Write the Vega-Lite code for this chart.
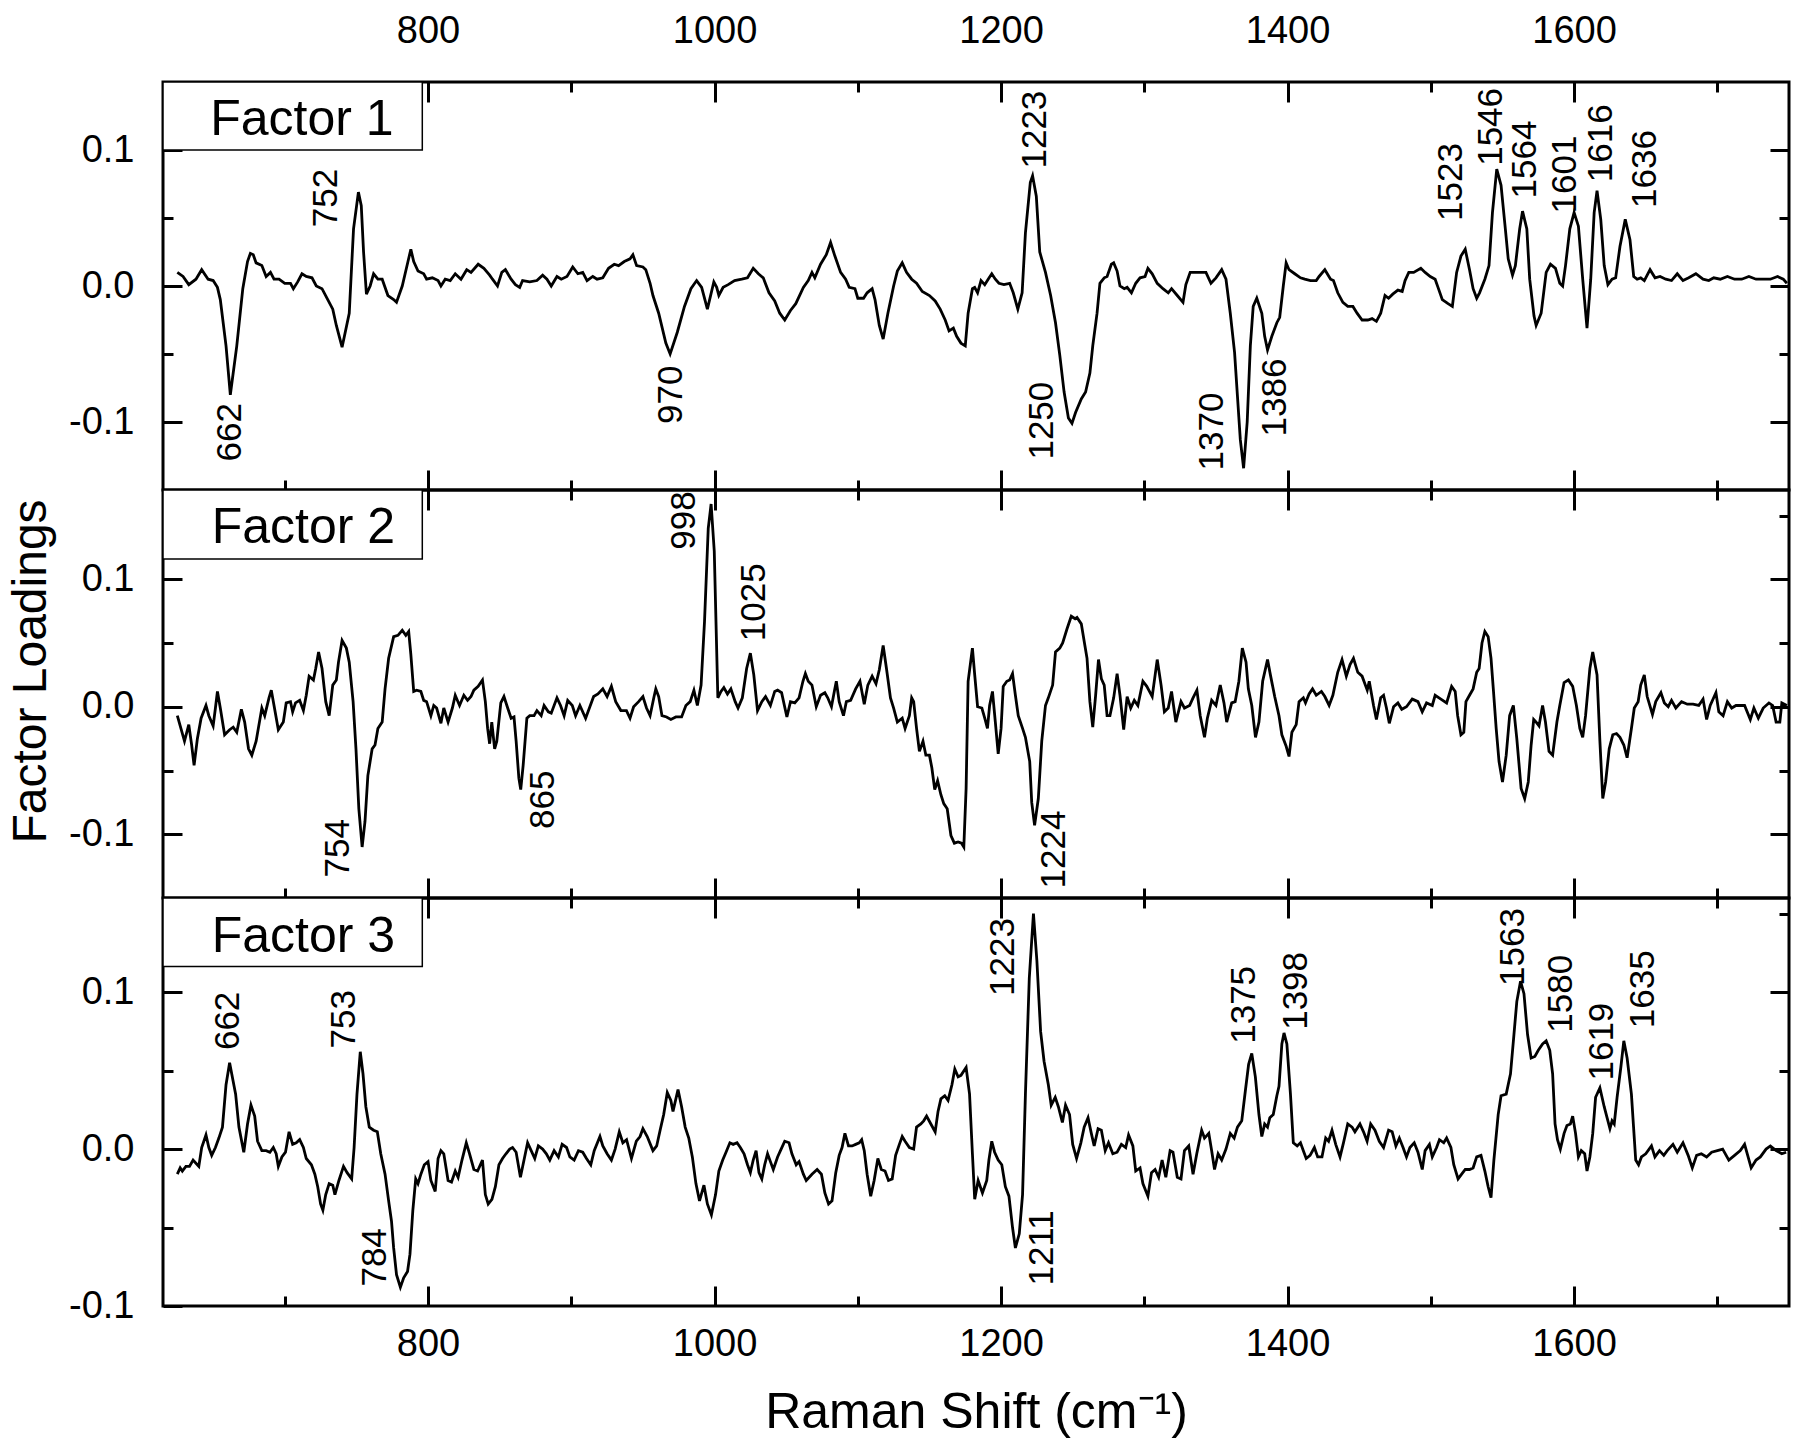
{
"$schema": "https://vega.github.io/schema/vega-lite/v6.json",
"background": "white",
"padding": {"left": 5, "top": 0, "right": 5, "bottom": 5},
"config": {
  "font": "Liberation Sans",
  "view": {"stroke": "black", "strokeWidth": 3},
  "axis": {"domain": false, "grid": false, "tickColor": "black", "tickWidth": 3, "labelFont": "Liberation Sans", "labelFontSize": 38, "labelColor": "black", "titleFont": "Liberation Sans", "titleFontSize": 48, "titleFontWeight": "normal", "titleColor": "black", "labelOverlap": false, "labelFlush": false},
  "text": {"font": "Liberation Sans", "color": "black"}
},
"datasets": {
"f1": [
{"x":625,"y":0.010},{"x":629,"y":0.007},{"x":633,"y":0.001},{"x":638,"y":0.005},{"x":642,"y":0.012},{"x":646.5,"y":0.005},{"x":650,"y":0.004},{"x":653,"y":-0.001},{"x":655,"y":-0.010},{"x":659,"y":-0.044},{"x":662,"y":-0.080},{"x":666.5,"y":-0.044},{"x":670.7,"y":-0.002},{"x":674,"y":0.018},{"x":676,"y":0.024},{"x":678,"y":0.023},{"x":680,"y":0.017},{"x":684,"y":0.015},{"x":687,"y":0.007},{"x":690,"y":0.010},{"x":692.5,"y":0.005},{"x":696,"y":0.005},{"x":700,"y":0.002},{"x":704,"y":0.002},{"x":706,"y":-0.002},{"x":709,"y":0.003},{"x":712,"y":0.009},{"x":715,"y":0.007},{"x":719,"y":0.006},{"x":722,"y":0.000},{"x":726,"y":-0.002},{"x":730,"y":-0.010},{"x":733.5,"y":-0.017},{"x":736,"y":-0.029},{"x":740,"y":-0.045},{"x":745,"y":-0.020},{"x":748,"y":0.042},{"x":751.4,"y":0.069},{"x":753.4,"y":0.059},{"x":755,"y":0.025},{"x":757,"y":-0.006},{"x":759.6,"y":0.000},{"x":762,"y":0.009},{"x":765,"y":0.005},{"x":768,"y":0.005},{"x":772,"y":-0.007},{"x":776,"y":-0.010},{"x":778,"y":-0.012},{"x":782,"y":0.000},{"x":786,"y":0.018},{"x":788,"y":0.027},{"x":790,"y":0.018},{"x":793,"y":0.011},{"x":797,"y":0.009},{"x":799,"y":0.005},{"x":803,"y":0.006},{"x":807,"y":0.004},{"x":809,"y":0.000},{"x":812,"y":0.005},{"x":815.5,"y":0.004},{"x":819,"y":0.009},{"x":823,"y":0.005},{"x":827,"y":0.012},{"x":830,"y":0.010},{"x":835,"y":0.016},{"x":839,"y":0.013},{"x":843,"y":0.008},{"x":845,"y":0.005},{"x":848.5,"y":0.000},{"x":851.5,"y":0.010},{"x":854,"y":0.012},{"x":858,"y":0.005},{"x":861,"y":0.001},{"x":864,"y":-0.001},{"x":866,"y":0.004},{"x":871,"y":0.003},{"x":876,"y":0.004},{"x":880,"y":0.008},{"x":883,"y":0.005},{"x":886,"y":0.000},{"x":890,"y":0.007},{"x":893,"y":0.005},{"x":897,"y":0.007},{"x":901,"y":0.014},{"x":904.6,"y":0.009},{"x":908,"y":0.010},{"x":911,"y":0.004},{"x":915,"y":0.007},{"x":918,"y":0.005},{"x":922,"y":0.006},{"x":926,"y":0.013},{"x":930,"y":0.016},{"x":933,"y":0.015},{"x":937,"y":0.018},{"x":941,"y":0.020},{"x":943,"y":0.023},{"x":945.6,"y":0.015},{"x":950,"y":0.014},{"x":952,"y":0.012},{"x":955,"y":0.002},{"x":957,"y":-0.007},{"x":961,"y":-0.020},{"x":966,"y":-0.042},{"x":969,"y":-0.050},{"x":974,"y":-0.034},{"x":979,"y":-0.015},{"x":983.5,"y":-0.002},{"x":987.5,"y":0.004},{"x":991,"y":-0.001},{"x":995,"y":-0.017},{"x":999.5,"y":0.003},{"x":1001.5,"y":-0.001},{"x":1003,"y":-0.007},{"x":1006,"y":-0.001},{"x":1009.5,"y":0.001},{"x":1014,"y":0.004},{"x":1019,"y":0.005},{"x":1023,"y":0.006},{"x":1027,"y":0.013},{"x":1030.6,"y":0.009},{"x":1034,"y":0.006},{"x":1038,"y":-0.005},{"x":1042,"y":-0.011},{"x":1045.5,"y":-0.020},{"x":1049,"y":-0.025},{"x":1053,"y":-0.018},{"x":1056.7,"y":-0.013},{"x":1062,"y":-0.001},{"x":1065.4,"y":0.004},{"x":1068,"y":0.010},{"x":1070,"y":0.006},{"x":1074,"y":0.016},{"x":1078,"y":0.023},{"x":1081,"y":0.032},{"x":1084,"y":0.022},{"x":1088,"y":0.010},{"x":1091.5,"y":0.005},{"x":1094,"y":-0.001},{"x":1098,"y":-0.002},{"x":1100,"y":-0.009},{"x":1104,"y":-0.009},{"x":1106.5,"y":-0.005},{"x":1110,"y":-0.002},{"x":1112,"y":-0.010},{"x":1115,"y":-0.029},{"x":1117.7,"y":-0.039},{"x":1121,"y":-0.020},{"x":1125,"y":0.000},{"x":1127.6,"y":0.011},{"x":1131,"y":0.017},{"x":1134,"y":0.010},{"x":1137.6,"y":0.005},{"x":1141,"y":0.002},{"x":1145,"y":-0.004},{"x":1150,"y":-0.007},{"x":1154,"y":-0.011},{"x":1157.5,"y":-0.017},{"x":1161,"y":-0.025},{"x":1163.7,"y":-0.033},{"x":1166.7,"y":-0.031},{"x":1169,"y":-0.037},{"x":1172,"y":-0.042},{"x":1175,"y":-0.044},{"x":1177,"y":-0.020},{"x":1180,"y":-0.002},{"x":1181.6,"y":-0.001},{"x":1183.6,"y":-0.005},{"x":1186,"y":0.004},{"x":1188.6,"y":0.001},{"x":1191,"y":0.005},{"x":1193.5,"y":0.009},{"x":1196,"y":0.005},{"x":1198.5,"y":0.002},{"x":1202,"y":0.001},{"x":1206,"y":0.002},{"x":1208.5,"y":-0.005},{"x":1211.7,"y":-0.017},{"x":1214.7,"y":-0.005},{"x":1217,"y":0.039},{"x":1220.4,"y":0.076},{"x":1222,"y":0.081},{"x":1224.6,"y":0.066},{"x":1227,"y":0.025},{"x":1231,"y":0.010},{"x":1234.6,"y":-0.007},{"x":1238,"y":-0.027},{"x":1241,"y":-0.051},{"x":1244,"y":-0.078},{"x":1247,"y":-0.097},{"x":1249.5,"y":-0.101},{"x":1252,"y":-0.093},{"x":1256,"y":-0.083},{"x":1259,"y":-0.078},{"x":1262,"y":-0.064},{"x":1264,"y":-0.044},{"x":1267,"y":-0.020},{"x":1269,"y":0.002},{"x":1272,"y":0.006},{"x":1274,"y":0.007},{"x":1277,"y":0.016},{"x":1278.6,"y":0.017},{"x":1281,"y":0.011},{"x":1283,"y":0.000},{"x":1286,"y":-0.002},{"x":1288,"y":-0.001},{"x":1291,"y":-0.005},{"x":1294,"y":0.002},{"x":1297,"y":0.006},{"x":1300.5,"y":0.007},{"x":1302.5,"y":0.013},{"x":1305.5,"y":0.009},{"x":1309,"y":0.002},{"x":1313,"y":-0.002},{"x":1316.7,"y":-0.005},{"x":1319,"y":-0.002},{"x":1323,"y":-0.007},{"x":1327,"y":-0.012},{"x":1329,"y":0.001},{"x":1332,"y":0.010},{"x":1337,"y":0.010},{"x":1340.7,"y":0.010},{"x":1343,"y":0.010},{"x":1346.5,"y":0.002},{"x":1350,"y":0.006},{"x":1354,"y":0.012},{"x":1357,"y":0.005},{"x":1360,"y":-0.020},{"x":1363,"y":-0.049},{"x":1365,"y":-0.081},{"x":1367,"y":-0.113},{"x":1369.3,"y":-0.134},{"x":1371.8,"y":-0.100},{"x":1374,"y":-0.044},{"x":1376,"y":-0.015},{"x":1378.5,"y":-0.009},{"x":1382,"y":-0.020},{"x":1384,"y":-0.037},{"x":1386,"y":-0.047},{"x":1389,"y":-0.037},{"x":1392.5,"y":-0.027},{"x":1394.5,"y":-0.023},{"x":1397,"y":0.000},{"x":1399,"y":0.017},{"x":1401,"y":0.012},{"x":1405,"y":0.009},{"x":1409,"y":0.006},{"x":1412,"y":0.005},{"x":1416,"y":0.004},{"x":1420,"y":0.004},{"x":1422,"y":0.007},{"x":1426,"y":0.012},{"x":1430,"y":0.005},{"x":1432,"y":0.004},{"x":1435,"y":-0.005},{"x":1438.6,"y":-0.012},{"x":1442,"y":-0.015},{"x":1445.6,"y":-0.015},{"x":1448.5,"y":-0.020},{"x":1452,"y":-0.025},{"x":1456,"y":-0.025},{"x":1459,"y":-0.024},{"x":1462,"y":-0.026},{"x":1465,"y":-0.020},{"x":1468,"y":-0.007},{"x":1470.5,"y":-0.009},{"x":1473.4,"y":-0.006},{"x":1477,"y":-0.003},{"x":1480,"y":-0.004},{"x":1482,"y":0.004},{"x":1484.6,"y":0.010},{"x":1488,"y":0.010},{"x":1493,"y":0.013},{"x":1496,"y":0.010},{"x":1499.6,"y":0.007},{"x":1503,"y":0.005},{"x":1505,"y":-0.001},{"x":1508,"y":-0.010},{"x":1512,"y":-0.013},{"x":1515,"y":-0.015},{"x":1518,"y":0.010},{"x":1521,"y":0.022},{"x":1524,"y":0.027},{"x":1527,"y":0.012},{"x":1529.5,"y":-0.002},{"x":1532,"y":-0.009},{"x":1534,"y":-0.005},{"x":1537.7,"y":0.005},{"x":1540.6,"y":0.015},{"x":1543,"y":0.054},{"x":1546,"y":0.086},{"x":1549,"y":0.074},{"x":1552,"y":0.042},{"x":1554,"y":0.020},{"x":1557,"y":0.008},{"x":1559,"y":0.015},{"x":1562,"y":0.042},{"x":1564,"y":0.055},{"x":1567,"y":0.042},{"x":1569,"y":0.005},{"x":1572,"y":-0.022},{"x":1573.5,"y":-0.029},{"x":1577,"y":-0.020},{"x":1580.5,"y":0.010},{"x":1583.5,"y":0.016},{"x":1587,"y":0.013},{"x":1590,"y":0.002},{"x":1592,"y":0.000},{"x":1594,"y":0.015},{"x":1597,"y":0.042},{"x":1600,"y":0.054},{"x":1603,"y":0.044},{"x":1606,"y":0.005},{"x":1609,"y":-0.031},{"x":1611.6,"y":0.005},{"x":1614,"y":0.054},{"x":1616,"y":0.070},{"x":1618.6,"y":0.049},{"x":1621,"y":0.015},{"x":1623.6,"y":0.001},{"x":1626.5,"y":0.005},{"x":1629,"y":0.006},{"x":1632,"y":0.029},{"x":1635.7,"y":0.049},{"x":1639,"y":0.034},{"x":1641.6,"y":0.007},{"x":1644,"y":0.005},{"x":1646.5,"y":0.006},{"x":1649,"y":0.004},{"x":1653,"y":0.012},{"x":1656.5,"y":0.006},{"x":1660,"y":0.007},{"x":1664,"y":0.005},{"x":1668,"y":0.004},{"x":1672,"y":0.009},{"x":1676,"y":0.004},{"x":1680,"y":0.006},{"x":1685,"y":0.009},{"x":1690,"y":0.005},{"x":1694,"y":0.004},{"x":1697.5,"y":0.006},{"x":1702,"y":0.005},{"x":1707,"y":0.007},{"x":1712,"y":0.005},{"x":1717,"y":0.005},{"x":1722,"y":0.007},{"x":1727,"y":0.005},{"x":1732,"y":0.005},{"x":1737,"y":0.005},{"x":1742,"y":0.007},{"x":1746,"y":0.005},{"x":1748.5,"y":0.002}
],
"f2": [
{"x":625,"y":-0.007},{"x":627.5,"y":-0.017},{"x":630,"y":-0.027},{"x":633,"y":-0.014},{"x":635,"y":-0.030},{"x":636.7,"y":-0.046},{"x":639,"y":-0.025},{"x":641.6,"y":-0.009},{"x":645,"y":0.001},{"x":647,"y":-0.007},{"x":650,"y":-0.015},{"x":651.6,"y":-0.001},{"x":653,"y":0.012},{"x":655,"y":-0.001},{"x":658,"y":-0.022},{"x":661.5,"y":-0.018},{"x":664,"y":-0.016},{"x":666.5,"y":-0.020},{"x":669.7,"y":-0.002},{"x":672,"y":-0.012},{"x":674.7,"y":-0.033},{"x":677,"y":-0.038},{"x":680,"y":-0.027},{"x":684,"y":-0.001},{"x":686,"y":-0.007},{"x":689,"y":0.007},{"x":690.6,"y":0.013},{"x":692.5,"y":0.001},{"x":695.5,"y":-0.018},{"x":699,"y":-0.012},{"x":701,"y":0.003},{"x":704,"y":0.004},{"x":705.5,"y":-0.004},{"x":707.5,"y":0.003},{"x":710.4,"y":0.005},{"x":713,"y":-0.003},{"x":715,"y":0.009},{"x":717,"y":0.024},{"x":720,"y":0.021},{"x":721.6,"y":0.030},{"x":723.6,"y":0.043},{"x":726,"y":0.030},{"x":728.6,"y":0.004},{"x":731,"y":-0.007},{"x":733.5,"y":0.017},{"x":736,"y":0.021},{"x":737.5,"y":0.035},{"x":740,"y":0.052},{"x":743,"y":0.046},{"x":745,"y":0.035},{"x":747.7,"y":0.004},{"x":749.7,"y":-0.033},{"x":751.7,"y":-0.080},{"x":754,"y":-0.110},{"x":756,"y":-0.090},{"x":758,"y":-0.054},{"x":761,"y":-0.033},{"x":763,"y":-0.030},{"x":765,"y":-0.017},{"x":768,"y":-0.012},{"x":770,"y":0.014},{"x":772.5,"y":0.038},{"x":776,"y":0.055},{"x":779,"y":0.056},{"x":782,"y":0.060},{"x":784.5,"y":0.056},{"x":786.5,"y":0.059},{"x":788,"y":0.041},{"x":790,"y":0.012},{"x":792,"y":0.013},{"x":795,"y":0.012},{"x":797,"y":0.005},{"x":799,"y":0.004},{"x":802,"y":-0.007},{"x":804,"y":0.001},{"x":806,"y":-0.001},{"x":809,"y":-0.013},{"x":811,"y":-0.001},{"x":814,"y":-0.012},{"x":817,"y":-0.001},{"x":819,"y":0.009},{"x":822,"y":0.001},{"x":825,"y":0.009},{"x":827.6,"y":0.005},{"x":830,"y":0.008},{"x":832,"y":0.013},{"x":835,"y":0.016},{"x":838,"y":0.021},{"x":840,"y":0.004},{"x":841.6,"y":-0.017},{"x":843,"y":-0.029},{"x":844.5,"y":-0.012},{"x":846.5,"y":-0.033},{"x":848,"y":-0.027},{"x":850.8,"y":0.003},{"x":853,"y":0.008},{"x":855.6,"y":-0.001},{"x":858,"y":-0.009},{"x":860,"y":-0.008},{"x":861.5,"y":-0.027},{"x":863.4,"y":-0.056},{"x":864.7,"y":-0.065},{"x":866.4,"y":-0.046},{"x":869,"y":-0.009},{"x":871,"y":-0.007},{"x":874,"y":-0.007},{"x":876,"y":-0.003},{"x":879,"y":-0.007},{"x":881,"y":0.001},{"x":884,"y":-0.004},{"x":886,"y":-0.005},{"x":890,"y":0.007},{"x":892.5,"y":0.001},{"x":895,"y":-0.007},{"x":897.5,"y":0.005},{"x":900.7,"y":0.001},{"x":903,"y":-0.007},{"x":906,"y":0.001},{"x":910,"y":-0.009},{"x":912,"y":-0.003},{"x":915.6,"y":0.008},{"x":918.6,"y":0.010},{"x":922,"y":0.014},{"x":925,"y":0.008},{"x":928,"y":0.016},{"x":931,"y":0.004},{"x":934.6,"y":-0.003},{"x":938.5,"y":-0.003},{"x":941,"y":-0.009},{"x":943.5,"y":0.000},{"x":947,"y":0.004},{"x":950,"y":0.008},{"x":952.5,"y":-0.001},{"x":955,"y":-0.007},{"x":957.6,"y":0.007},{"x":959,"y":0.014},{"x":961,"y":0.008},{"x":963.3,"y":-0.007},{"x":966.5,"y":-0.008},{"x":969.5,"y":-0.010},{"x":973,"y":-0.008},{"x":977,"y":-0.008},{"x":980,"y":0.001},{"x":983,"y":0.004},{"x":985.6,"y":0.013},{"x":988,"y":0.001},{"x":990.6,"y":0.017},{"x":993,"y":0.067},{"x":995.6,"y":0.140},{"x":997.6,"y":0.159},{"x":999.8,"y":0.122},{"x":1002.3,"y":0.007},{"x":1004.5,"y":0.012},{"x":1006.5,"y":0.015},{"x":1009,"y":0.010},{"x":1011.4,"y":0.014},{"x":1014.4,"y":0.004},{"x":1016.4,"y":-0.001},{"x":1019.4,"y":0.007},{"x":1022.4,"y":0.030},{"x":1025,"y":0.042},{"x":1027.4,"y":0.025},{"x":1030,"y":-0.003},{"x":1033,"y":0.004},{"x":1035.6,"y":0.008},{"x":1039,"y":0.001},{"x":1042,"y":0.012},{"x":1044,"y":0.013},{"x":1046.8,"y":0.011},{"x":1050.5,"y":-0.008},{"x":1053,"y":0.004},{"x":1056,"y":0.003},{"x":1059,"y":0.007},{"x":1061.7,"y":0.020},{"x":1063.4,"y":0.026},{"x":1065.4,"y":0.020},{"x":1068,"y":0.017},{"x":1071,"y":0.000},{"x":1074,"y":0.009},{"x":1077,"y":0.011},{"x":1079,"y":0.007},{"x":1081.6,"y":0.000},{"x":1083.6,"y":0.012},{"x":1085,"y":0.020},{"x":1087,"y":0.004},{"x":1090,"y":-0.007},{"x":1092,"y":0.004},{"x":1095,"y":0.005},{"x":1098.5,"y":0.014},{"x":1101.5,"y":0.020},{"x":1104.5,"y":0.002},{"x":1107,"y":0.017},{"x":1110,"y":0.024},{"x":1112.7,"y":0.018},{"x":1115,"y":0.029},{"x":1117.7,"y":0.048},{"x":1120,"y":0.030},{"x":1122.8,"y":0.007},{"x":1125,"y":-0.001},{"x":1127.6,"y":-0.012},{"x":1131,"y":-0.009},{"x":1133,"y":-0.017},{"x":1136,"y":-0.007},{"x":1137.6,"y":0.007},{"x":1139,"y":0.004},{"x":1141,"y":-0.017},{"x":1143,"y":-0.035},{"x":1145.5,"y":-0.027},{"x":1147.5,"y":-0.038},{"x":1150,"y":-0.038},{"x":1151.7,"y":-0.048},{"x":1153.7,"y":-0.065},{"x":1155.7,"y":-0.058},{"x":1158,"y":-0.069},{"x":1160,"y":-0.076},{"x":1162.4,"y":-0.080},{"x":1165,"y":-0.101},{"x":1167.4,"y":-0.107},{"x":1170,"y":-0.106},{"x":1172.4,"y":-0.107},{"x":1174,"y":-0.110},{"x":1175.6,"y":-0.064},{"x":1177,"y":0.020},{"x":1180,"y":0.046},{"x":1181.6,"y":0.025},{"x":1183.6,"y":0.000},{"x":1186.6,"y":-0.001},{"x":1188.6,"y":-0.009},{"x":1190.5,"y":-0.017},{"x":1192,"y":0.001},{"x":1194,"y":0.012},{"x":1196,"y":-0.012},{"x":1198,"y":-0.037},{"x":1200,"y":-0.017},{"x":1201.5,"y":0.016},{"x":1204,"y":0.020},{"x":1206,"y":0.021},{"x":1208,"y":0.026},{"x":1210,"y":0.009},{"x":1212,"y":-0.007},{"x":1215,"y":-0.017},{"x":1217,"y":-0.024},{"x":1220,"y":-0.043},{"x":1221.4,"y":-0.075},{"x":1223.4,"y":-0.093},{"x":1226,"y":-0.072},{"x":1228.4,"y":-0.027},{"x":1231,"y":0.001},{"x":1233,"y":0.007},{"x":1236,"y":0.017},{"x":1238,"y":0.043},{"x":1241,"y":0.046},{"x":1243,"y":0.050},{"x":1246,"y":0.061},{"x":1249,"y":0.071},{"x":1251.7,"y":0.069},{"x":1253,"y":0.070},{"x":1256,"y":0.065},{"x":1258.5,"y":0.048},{"x":1260,"y":0.038},{"x":1262,"y":0.004},{"x":1264,"y":-0.016},{"x":1266,"y":0.009},{"x":1268,"y":0.037},{"x":1270,"y":0.022},{"x":1272,"y":0.017},{"x":1274,"y":-0.007},{"x":1276,"y":-0.007},{"x":1278.6,"y":0.007},{"x":1281,"y":0.026},{"x":1283,"y":0.009},{"x":1285.6,"y":-0.018},{"x":1288,"y":0.008},{"x":1290.5,"y":-0.001},{"x":1293,"y":0.005},{"x":1295.5,"y":0.001},{"x":1299,"y":0.020},{"x":1301.7,"y":0.016},{"x":1305.5,"y":0.008},{"x":1309,"y":0.037},{"x":1311.7,"y":0.017},{"x":1314,"y":-0.004},{"x":1316.7,"y":-0.001},{"x":1319,"y":0.012},{"x":1322,"y":-0.012},{"x":1325.6,"y":0.004},{"x":1328,"y":-0.001},{"x":1331.6,"y":0.001},{"x":1334,"y":0.007},{"x":1336.7,"y":0.013},{"x":1339,"y":-0.007},{"x":1342,"y":-0.024},{"x":1344,"y":-0.009},{"x":1347,"y":0.005},{"x":1350,"y":0.001},{"x":1353,"y":0.017},{"x":1355.6,"y":0.003},{"x":1357.5,"y":-0.012},{"x":1361,"y":0.003},{"x":1363.4,"y":0.004},{"x":1366,"y":0.020},{"x":1368.4,"y":0.046},{"x":1371,"y":0.035},{"x":1372.6,"y":0.014},{"x":1375,"y":0.001},{"x":1377.6,"y":-0.024},{"x":1380,"y":-0.012},{"x":1382.6,"y":0.020},{"x":1386,"y":0.037},{"x":1388,"y":0.025},{"x":1391,"y":0.008},{"x":1394,"y":-0.007},{"x":1396,"y":-0.022},{"x":1399,"y":-0.031},{"x":1401,"y":-0.039},{"x":1403,"y":-0.020},{"x":1406,"y":-0.014},{"x":1408,"y":0.004},{"x":1411,"y":0.007},{"x":1412.5,"y":0.003},{"x":1415,"y":0.010},{"x":1417.4,"y":0.014},{"x":1420,"y":0.009},{"x":1423.6,"y":0.012},{"x":1426,"y":0.008},{"x":1429,"y":0.001},{"x":1431.6,"y":0.009},{"x":1435,"y":0.027},{"x":1438,"y":0.037},{"x":1441,"y":0.024},{"x":1443.6,"y":0.033},{"x":1446,"y":0.038},{"x":1449,"y":0.027},{"x":1452,"y":0.024},{"x":1455.6,"y":0.013},{"x":1457,"y":0.020},{"x":1460,"y":0.001},{"x":1462,"y":-0.010},{"x":1465,"y":0.007},{"x":1467,"y":0.009},{"x":1469,"y":-0.001},{"x":1471,"y":-0.013},{"x":1474,"y":0.000},{"x":1477,"y":0.003},{"x":1479.7,"y":-0.002},{"x":1483,"y":0.000},{"x":1487,"y":0.006},{"x":1491,"y":0.004},{"x":1494,"y":-0.004},{"x":1497,"y":0.003},{"x":1501,"y":0.001},{"x":1503,"y":0.009},{"x":1507,"y":0.006},{"x":1511,"y":0.003},{"x":1514.5,"y":0.016},{"x":1517,"y":0.012},{"x":1518.7,"y":-0.007},{"x":1521,"y":-0.022},{"x":1523,"y":-0.020},{"x":1524.5,"y":0.004},{"x":1527,"y":0.009},{"x":1529.5,"y":0.014},{"x":1532,"y":0.027},{"x":1533.7,"y":0.030},{"x":1535.7,"y":0.050},{"x":1537.7,"y":0.059},{"x":1540,"y":0.055},{"x":1542,"y":0.038},{"x":1543.6,"y":0.014},{"x":1545.6,"y":-0.017},{"x":1547.6,"y":-0.043},{"x":1550,"y":-0.059},{"x":1552.6,"y":-0.038},{"x":1555,"y":-0.007},{"x":1557.6,"y":0.001},{"x":1560,"y":-0.025},{"x":1563,"y":-0.064},{"x":1565.5,"y":-0.072},{"x":1568,"y":-0.059},{"x":1570,"y":-0.030},{"x":1571.8,"y":-0.010},{"x":1573.5,"y":-0.012},{"x":1575.5,"y":-0.015},{"x":1578,"y":0.001},{"x":1580,"y":-0.012},{"x":1582.5,"y":-0.035},{"x":1585,"y":-0.038},{"x":1588,"y":-0.012},{"x":1590,"y":0.001},{"x":1593,"y":0.019},{"x":1596,"y":0.021},{"x":1599,"y":0.016},{"x":1601.6,"y":0.001},{"x":1604,"y":-0.017},{"x":1606,"y":-0.024},{"x":1608,"y":-0.007},{"x":1611,"y":0.030},{"x":1613,"y":0.043},{"x":1616,"y":0.025},{"x":1618,"y":-0.027},{"x":1620,"y":-0.072},{"x":1622,"y":-0.059},{"x":1624.5,"y":-0.033},{"x":1627,"y":-0.022},{"x":1629.6,"y":-0.021},{"x":1632,"y":-0.024},{"x":1634.7,"y":-0.030},{"x":1637,"y":-0.040},{"x":1640,"y":-0.017},{"x":1642,"y":-0.001},{"x":1644.7,"y":0.004},{"x":1646.5,"y":0.017},{"x":1649,"y":0.025},{"x":1651,"y":0.008},{"x":1654.7,"y":-0.006},{"x":1657,"y":0.004},{"x":1660.6,"y":0.011},{"x":1663,"y":0.003},{"x":1665.7,"y":0.000},{"x":1668,"y":0.005},{"x":1671,"y":-0.001},{"x":1675,"y":0.004},{"x":1679,"y":0.002},{"x":1683,"y":0.002},{"x":1687,"y":0.001},{"x":1690,"y":0.006},{"x":1692.5,"y":-0.010},{"x":1695,"y":0.001},{"x":1699,"y":0.011},{"x":1701,"y":-0.004},{"x":1704,"y":-0.007},{"x":1707,"y":0.004},{"x":1710,"y":-0.001},{"x":1713,"y":0.001},{"x":1716,"y":0.001},{"x":1719,"y":0.001},{"x":1723,"y":-0.010},{"x":1725.5,"y":-0.001},{"x":1728.6,"y":-0.009},{"x":1732,"y":-0.001},{"x":1736,"y":0.003},{"x":1738.6,"y":0.001},{"x":1741,"y":-0.012},{"x":1743.6,"y":-0.012},{"x":1745,"y":0.003},{"x":1748.5,"y":0.001}
],
"f3": [
{"x":625,"y":-0.016},{"x":627,"y":-0.012},{"x":628.5,"y":-0.014},{"x":631,"y":-0.011},{"x":633.5,"y":-0.011},{"x":636,"y":-0.007},{"x":638,"y":-0.009},{"x":640,"y":-0.011},{"x":642,"y":0.001},{"x":645,"y":0.009},{"x":647,"y":0.001},{"x":649,"y":-0.004},{"x":651.6,"y":0.001},{"x":654,"y":0.007},{"x":656.5,"y":0.014},{"x":659,"y":0.041},{"x":661.5,"y":0.055},{"x":664,"y":0.043},{"x":665.7,"y":0.035},{"x":668,"y":0.014},{"x":671.4,"y":-0.002},{"x":674,"y":0.016},{"x":676.4,"y":0.028},{"x":679,"y":0.021},{"x":681,"y":0.005},{"x":684,"y":-0.001},{"x":687,"y":-0.001},{"x":689.6,"y":-0.002},{"x":692,"y":0.001},{"x":694,"y":-0.003},{"x":695.5,"y":-0.011},{"x":698,"y":-0.005},{"x":700.5,"y":-0.002},{"x":703,"y":0.011},{"x":705.5,"y":0.003},{"x":708,"y":0.004},{"x":710.4,"y":0.006},{"x":713,"y":0.001},{"x":715,"y":-0.006},{"x":718.6,"y":-0.010},{"x":721,"y":-0.016},{"x":723,"y":-0.024},{"x":725,"y":-0.035},{"x":726.6,"y":-0.039},{"x":728.6,"y":-0.029},{"x":731,"y":-0.022},{"x":733.5,"y":-0.023},{"x":735,"y":-0.029},{"x":737.8,"y":-0.020},{"x":741,"y":-0.011},{"x":743.5,"y":-0.015},{"x":746.7,"y":-0.019},{"x":748.4,"y":0.001},{"x":750.4,"y":0.035},{"x":752.7,"y":0.062},{"x":754.6,"y":0.048},{"x":756.6,"y":0.027},{"x":759,"y":0.014},{"x":762,"y":0.012},{"x":764.6,"y":0.011},{"x":767,"y":-0.003},{"x":770,"y":-0.016},{"x":772.5,"y":-0.033},{"x":774.5,"y":-0.046},{"x":776,"y":-0.063},{"x":778,"y":-0.080},{"x":780.7,"y":-0.088},{"x":783,"y":-0.082},{"x":785.7,"y":-0.078},{"x":787.4,"y":-0.067},{"x":789.4,"y":-0.039},{"x":791.4,"y":-0.019},{"x":793,"y":-0.022},{"x":795,"y":-0.016},{"x":797.4,"y":-0.010},{"x":800,"y":-0.008},{"x":802,"y":-0.020},{"x":805,"y":-0.027},{"x":807,"y":-0.006},{"x":809,"y":-0.001},{"x":811,"y":-0.003},{"x":814,"y":-0.020},{"x":816.4,"y":-0.021},{"x":819,"y":-0.014},{"x":821,"y":-0.018},{"x":823.7,"y":-0.007},{"x":826.7,"y":0.004},{"x":829,"y":-0.003},{"x":832,"y":-0.013},{"x":834.6,"y":-0.014},{"x":838,"y":-0.007},{"x":840,"y":-0.029},{"x":842,"y":-0.035},{"x":844.6,"y":-0.032},{"x":847,"y":-0.024},{"x":849.5,"y":-0.010},{"x":852,"y":-0.006},{"x":854.4,"y":-0.003},{"x":857,"y":0.000},{"x":859,"y":0.001},{"x":861.5,"y":-0.002},{"x":864.5,"y":-0.018},{"x":867,"y":-0.007},{"x":869.5,"y":0.004},{"x":872,"y":-0.001},{"x":874.5,"y":-0.006},{"x":877,"y":0.002},{"x":880,"y":0.000},{"x":882.6,"y":-0.003},{"x":885,"y":-0.007},{"x":888,"y":-0.001},{"x":891,"y":-0.005},{"x":893.6,"y":0.003},{"x":896.7,"y":0.001},{"x":899,"y":-0.005},{"x":902,"y":-0.007},{"x":905,"y":-0.001},{"x":908,"y":-0.002},{"x":910.6,"y":-0.006},{"x":913.6,"y":-0.010},{"x":916,"y":-0.001},{"x":920,"y":0.008},{"x":922,"y":0.002},{"x":925,"y":-0.003},{"x":928,"y":-0.007},{"x":930.6,"y":0.000},{"x":933.5,"y":0.011},{"x":936,"y":0.004},{"x":938.6,"y":0.006},{"x":942,"y":-0.006},{"x":945.4,"y":0.005},{"x":948,"y":0.008},{"x":950,"y":0.013},{"x":953,"y":0.008},{"x":957,"y":-0.001},{"x":959.6,"y":0.002},{"x":962,"y":0.012},{"x":964.5,"y":0.022},{"x":967,"y":0.036},{"x":969.5,"y":0.031},{"x":971,"y":0.024},{"x":974.5,"y":0.038},{"x":977,"y":0.027},{"x":979.5,"y":0.014},{"x":982,"y":0.007},{"x":984.5,"y":-0.005},{"x":987,"y":-0.022},{"x":989.5,"y":-0.033},{"x":992.6,"y":-0.023},{"x":995,"y":-0.035},{"x":997.8,"y":-0.042},{"x":1000.7,"y":-0.029},{"x":1003,"y":-0.014},{"x":1005.7,"y":-0.007},{"x":1008,"y":-0.002},{"x":1010.7,"y":0.004},{"x":1013,"y":0.003},{"x":1015.7,"y":0.004},{"x":1018,"y":0.001},{"x":1020.6,"y":-0.003},{"x":1023,"y":-0.010},{"x":1025,"y":-0.015},{"x":1027,"y":-0.007},{"x":1029,"y":-0.001},{"x":1031,"y":-0.015},{"x":1033,"y":-0.019},{"x":1035,"y":-0.010},{"x":1037,"y":-0.003},{"x":1039,"y":-0.008},{"x":1041,"y":-0.013},{"x":1044,"y":-0.005},{"x":1046,"y":-0.001},{"x":1049,"y":0.005},{"x":1052,"y":0.004},{"x":1054,"y":-0.003},{"x":1057,"y":-0.010},{"x":1059,"y":-0.008},{"x":1062,"y":-0.016},{"x":1064,"y":-0.020},{"x":1068,"y":-0.016},{"x":1071.6,"y":-0.013},{"x":1074.6,"y":-0.016},{"x":1077,"y":-0.028},{"x":1079.6,"y":-0.035},{"x":1082,"y":-0.033},{"x":1084.6,"y":-0.015},{"x":1087,"y":-0.004},{"x":1089,"y":0.001},{"x":1091,"y":0.010},{"x":1093.5,"y":0.002},{"x":1096,"y":0.002},{"x":1098.5,"y":0.003},{"x":1101,"y":0.004},{"x":1102.7,"y":0.006},{"x":1104.5,"y":-0.001},{"x":1106.5,"y":-0.016},{"x":1109,"y":-0.030},{"x":1111.4,"y":-0.020},{"x":1114,"y":-0.006},{"x":1116.4,"y":-0.013},{"x":1119,"y":-0.014},{"x":1121.4,"y":-0.020},{"x":1124,"y":-0.019},{"x":1126.4,"y":-0.004},{"x":1129,"y":0.003},{"x":1131,"y":0.008},{"x":1133,"y":0.005},{"x":1136,"y":0.001},{"x":1139,"y":0.000},{"x":1141,"y":0.014},{"x":1144,"y":0.016},{"x":1146,"y":0.018},{"x":1148,"y":0.021},{"x":1151,"y":0.016},{"x":1154,"y":0.011},{"x":1156,"y":0.024},{"x":1158,"y":0.032},{"x":1160.7,"y":0.034},{"x":1163,"y":0.031},{"x":1165.7,"y":0.041},{"x":1167.7,"y":0.051},{"x":1170,"y":0.046},{"x":1172,"y":0.047},{"x":1175.6,"y":0.052},{"x":1178,"y":0.035},{"x":1180,"y":-0.003},{"x":1181.6,"y":-0.032},{"x":1184,"y":-0.020},{"x":1187,"y":-0.028},{"x":1190,"y":-0.020},{"x":1191.5,"y":-0.007},{"x":1193.5,"y":0.005},{"x":1195.5,"y":-0.002},{"x":1198,"y":-0.007},{"x":1200.5,"y":-0.010},{"x":1203,"y":-0.024},{"x":1205.5,"y":-0.030},{"x":1208,"y":-0.050},{"x":1210,"y":-0.063},{"x":1212.7,"y":-0.054},{"x":1215,"y":-0.029},{"x":1217,"y":0.035},{"x":1219.7,"y":0.109},{"x":1222.6,"y":0.150},{"x":1225,"y":0.120},{"x":1227.6,"y":0.075},{"x":1230,"y":0.056},{"x":1233,"y":0.041},{"x":1235,"y":0.028},{"x":1237.8,"y":0.033},{"x":1240,"y":0.027},{"x":1242.8,"y":0.017},{"x":1245,"y":0.028},{"x":1247.8,"y":0.022},{"x":1250,"y":0.003},{"x":1252.7,"y":-0.006},{"x":1255.7,"y":0.004},{"x":1258,"y":0.014},{"x":1260.7,"y":0.020},{"x":1263,"y":0.010},{"x":1265,"y":0.002},{"x":1267.7,"y":0.013},{"x":1270,"y":0.012},{"x":1272.7,"y":-0.001},{"x":1275,"y":0.004},{"x":1278,"y":-0.003},{"x":1281,"y":-0.002},{"x":1284,"y":0.003},{"x":1287,"y":0.001},{"x":1289,"y":0.009},{"x":1292,"y":0.002},{"x":1294,"y":-0.014},{"x":1297,"y":-0.012},{"x":1299,"y":-0.022},{"x":1302.5,"y":-0.030},{"x":1305,"y":-0.015},{"x":1307.5,"y":-0.013},{"x":1310,"y":-0.018},{"x":1312.4,"y":-0.007},{"x":1315,"y":-0.018},{"x":1318,"y":-0.001},{"x":1320,"y":-0.002},{"x":1323,"y":-0.018},{"x":1325.6,"y":-0.019},{"x":1328,"y":-0.001},{"x":1331,"y":0.002},{"x":1334,"y":-0.016},{"x":1336.6,"y":-0.003},{"x":1340,"y":0.012},{"x":1342,"y":0.007},{"x":1345,"y":0.010},{"x":1347,"y":-0.001},{"x":1349,"y":-0.013},{"x":1351.5,"y":-0.003},{"x":1354,"y":-0.007},{"x":1357,"y":0.000},{"x":1360,"y":0.010},{"x":1362.7,"y":0.007},{"x":1365,"y":0.014},{"x":1368,"y":0.018},{"x":1370.5,"y":0.037},{"x":1372.8,"y":0.054},{"x":1375,"y":0.061},{"x":1377.5,"y":0.046},{"x":1380,"y":0.022},{"x":1382,"y":0.008},{"x":1384,"y":0.016},{"x":1386,"y":0.014},{"x":1387.6,"y":0.020},{"x":1390,"y":0.022},{"x":1392.5,"y":0.034},{"x":1394,"y":0.040},{"x":1396,"y":0.067},{"x":1397.5,"y":0.074},{"x":1399.5,"y":0.067},{"x":1402,"y":0.035},{"x":1404,"y":0.004},{"x":1406.7,"y":0.002},{"x":1409,"y":0.004},{"x":1411,"y":-0.001},{"x":1413,"y":-0.006},{"x":1415.7,"y":-0.004},{"x":1418.7,"y":0.001},{"x":1421,"y":-0.005},{"x":1424,"y":-0.005},{"x":1426.6,"y":0.007},{"x":1428.6,"y":0.005},{"x":1431,"y":0.012},{"x":1433.6,"y":0.003},{"x":1436.6,"y":-0.005},{"x":1439,"y":0.004},{"x":1442,"y":0.016},{"x":1445,"y":0.014},{"x":1447,"y":0.011},{"x":1450.5,"y":0.016},{"x":1453,"y":0.011},{"x":1455.5,"y":0.005},{"x":1458,"y":0.016},{"x":1461,"y":0.012},{"x":1464,"y":0.005},{"x":1467,"y":0.001},{"x":1470.5,"y":0.012},{"x":1473,"y":0.011},{"x":1475.6,"y":0.002},{"x":1478,"y":0.007},{"x":1480.6,"y":0.001},{"x":1483,"y":-0.005},{"x":1485.4,"y":0.001},{"x":1488.4,"y":0.004},{"x":1491,"y":-0.002},{"x":1494,"y":-0.013},{"x":1496,"y":-0.001},{"x":1499,"y":0.003},{"x":1501,"y":-0.005},{"x":1504,"y":0.001},{"x":1506,"y":0.006},{"x":1509,"y":0.004},{"x":1511,"y":0.007},{"x":1514,"y":0.001},{"x":1516,"y":-0.010},{"x":1519,"y":-0.019},{"x":1521.5,"y":-0.016},{"x":1524,"y":-0.013},{"x":1527,"y":-0.013},{"x":1529.5,"y":-0.012},{"x":1532,"y":-0.005},{"x":1535,"y":-0.004},{"x":1537.7,"y":-0.014},{"x":1540,"y":-0.024},{"x":1542,"y":-0.031},{"x":1544,"y":-0.007},{"x":1547,"y":0.022},{"x":1549,"y":0.034},{"x":1552.6,"y":0.035},{"x":1555.6,"y":0.048},{"x":1558,"y":0.073},{"x":1560,"y":0.094},{"x":1562.6,"y":0.107},{"x":1565,"y":0.099},{"x":1567.5,"y":0.073},{"x":1570,"y":0.058},{"x":1572.6,"y":0.059},{"x":1575,"y":0.063},{"x":1578,"y":0.067},{"x":1580.5,"y":0.069},{"x":1583,"y":0.063},{"x":1585,"y":0.048},{"x":1586.7,"y":0.016},{"x":1588.4,"y":0.006},{"x":1590.4,"y":0.000},{"x":1593,"y":0.010},{"x":1595,"y":0.015},{"x":1597.4,"y":0.016},{"x":1599,"y":0.021},{"x":1601,"y":0.010},{"x":1603,"y":-0.005},{"x":1605,"y":-0.001},{"x":1607.4,"y":-0.003},{"x":1609,"y":-0.014},{"x":1611,"y":-0.005},{"x":1613,"y":0.010},{"x":1615,"y":0.033},{"x":1618,"y":0.039},{"x":1621,"y":0.027},{"x":1623,"y":0.020},{"x":1625,"y":0.013},{"x":1626.5,"y":0.018},{"x":1628,"y":0.016},{"x":1630,"y":0.033},{"x":1632.6,"y":0.052},{"x":1634.7,"y":0.069},{"x":1637,"y":0.058},{"x":1640,"y":0.035},{"x":1641.5,"y":0.014},{"x":1643,"y":-0.007},{"x":1645,"y":-0.010},{"x":1647,"y":-0.005},{"x":1650,"y":-0.003},{"x":1654,"y":0.002},{"x":1656.4,"y":-0.005},{"x":1659.6,"y":-0.001},{"x":1662.6,"y":-0.004},{"x":1665,"y":-0.001},{"x":1669,"y":0.003},{"x":1672,"y":-0.002},{"x":1676,"y":0.004},{"x":1679.6,"y":-0.004},{"x":1682.5,"y":-0.012},{"x":1685.5,"y":-0.004},{"x":1688.8,"y":-0.003},{"x":1692.5,"y":-0.005},{"x":1696,"y":-0.002},{"x":1700,"y":-0.001},{"x":1703.7,"y":0.000},{"x":1708,"y":-0.007},{"x":1712,"y":-0.004},{"x":1716,"y":-0.001},{"x":1719,"y":0.003},{"x":1723.6,"y":-0.012},{"x":1727,"y":-0.007},{"x":1730,"y":-0.005},{"x":1734,"y":0.000},{"x":1737,"y":0.002},{"x":1741,"y":-0.001},{"x":1745,"y":-0.003},{"x":1748,"y":-0.002}
],
"lab1": [
{"x":661.5,"y":-0.1076,"t":"662"},{"x":728.6,"y":0.0647,"t":"752"},{"x":969.5,"y":-0.080,"t":"970"},{"x":1223.5,"y":0.115,"t":"1223"},{"x":1228.9,"y":-0.099,"t":"1250"},{"x":1347.5,"y":-0.107,"t":"1370"},{"x":1391.5,"y":-0.082,"t":"1386"},{"x":1513.8,"y":0.0765,"t":"1523"},{"x":1541.9,"y":0.117,"t":"1546"},{"x":1566,"y":0.093,"t":"1564"},{"x":1593.4,"y":0.082,"t":"1601"},{"x":1619,"y":0.105,"t":"1616"},{"x":1649.4,"y":0.086,"t":"1636"}
],
"lab2": [
{"x":737.3,"y":-0.111,"t":"754"},{"x":880.6,"y":-0.073,"t":"865"},{"x":978.7,"y":0.146,"t":"998"},{"x":1027.4,"y":0.082,"t":"1025"},{"x":1237,"y":-0.112,"t":"1224"}
],
"lab3": [
{"x":660.3,"y":0.0817,"t":"662"},{"x":741,"y":0.0827,"t":"753"},{"x":763.3,"y":-0.069,"t":"784"},{"x":1201.5,"y":0.1224,"t":"1223"},{"x":1228.9,"y":-0.063,"t":"1211"},{"x":1369.4,"y":0.0919,"t":"1375"},{"x":1406.2,"y":0.1008,"t":"1398"},{"x":1557.6,"y":0.1288,"t":"1563"},{"x":1591,"y":0.099,"t":"1580"},{"x":1619.8,"y":0.0685,"t":"1619"},{"x":1648.2,"y":0.1018,"t":"1635"}
],
"box1": [{"x1":615,"x2":796,"y1":0.1,"y2":0.15,"tx":712,"ty":0.122,"name":"Factor 1"}],
"box2": [{"x1":615,"x2":796,"y1":0.1158,"y2":0.17,"tx":713,"ty":0.140,"name":"Factor 2"}],
"box3": [{"x1":615,"x2":796,"y1":0.1163,"y2":0.16,"tx":713,"ty":0.135,"name":"Factor 3"}]
},
"spacing": 0,
"bounds": "flush",
"vconcat": [
{
 "width": 1626, "height": 408,
 "layer": [
  {"data": {"name": "f1"}, "mark": {"type": "line", "color": "black", "strokeWidth": 2.8},
   "encoding": {
    "x": {"field": "x", "type": "quantitative", "scale": {"domain": [615, 1750], "nice": false, "zero": false},
          "axis": {"orient": "bottom", "values": [700,800,900,1000,1100,1200,1300,1400,1500,1600,1700], "labels": false, "title": null,
                   "tickSize": {"condition": {"test": "datum.value % 200 === 0", "value": -20}, "value": -10}}},
    "y": {"field": "y", "type": "quantitative", "scale": {"domain": [-0.15, 0.15], "nice": false, "zero": false},
          "axis": {"orient": "left", "values": [-0.1,-0.05,0,0.05,0.1], "title": null, "labelPadding": 48,
                   "labelExpr": "round(datum.value*20) % 2 === 0 ? (datum.value < -0.001 ? '-' : '') + format(abs(datum.value), '.1f') : ''",
                   "tickSize": {"condition": {"test": "round(datum.value*20) % 2 === 0", "value": -19}, "value": -10}}}
   }},
  {"data": {"name": "box1"}, "mark": {"type": "rect", "fill": "white", "stroke": "black", "strokeWidth": 1.5},
   "encoding": {
    "x": {"field": "x1", "type": "quantitative",
          "axis": {"orient": "top", "values": [700,800,900,1000,1100,1200,1300,1400,1500,1600,1700], "labels": true, "title": null, "format": "d", "labelPadding": 52,
                   "labelExpr": "datum.value % 200 === 0 ? datum.label : ''",
                   "tickSize": {"condition": {"test": "datum.value % 200 === 0", "value": -20}, "value": -10}}},
    "x2": {"field": "x2"},
    "y": {"field": "y1", "type": "quantitative",
          "axis": {"orient": "right", "values": [-0.1,-0.05,0,0.05,0.1], "labels": false, "title": null,
                   "tickSize": {"condition": {"test": "round(datum.value*20) % 2 === 0", "value": -19}, "value": -10}}},
    "y2": {"field": "y2"}
   }},
  {"data": {"name": "box1"}, "mark": {"type": "text", "fontSize": 50, "align": "center", "baseline": "middle"},
   "encoding": {"x": {"field": "tx", "type": "quantitative", "axis": null}, "y": {"field": "ty", "type": "quantitative", "axis": null}, "text": {"field": "name"}}},
  {"data": {"name": "lab1"}, "mark": {"type": "text", "angle": 270, "fontSize": 35, "align": "center", "baseline": "middle"},
   "encoding": {"x": {"field": "x", "type": "quantitative", "axis": null}, "y": {"field": "y", "type": "quantitative", "axis": null}, "text": {"field": "t"}}}
 ],
 "resolve": {"axis": {"x": "independent", "y": "independent"}}
},
{
 "width": 1626, "height": 408,
 "layer": [
  {"data": {"name": "f2"}, "mark": {"type": "line", "color": "black", "strokeWidth": 2.8},
   "encoding": {
    "x": {"field": "x", "type": "quantitative", "scale": {"domain": [615, 1750], "nice": false, "zero": false},
          "axis": {"orient": "bottom", "values": [700,800,900,1000,1100,1200,1300,1400,1500,1600,1700], "labels": false, "title": null,
                   "tickSize": {"condition": {"test": "datum.value % 200 === 0", "value": -20}, "value": -10}}},
    "y": {"field": "y", "type": "quantitative", "scale": {"domain": [-0.15, 0.17], "nice": false, "zero": false},
          "axis": {"orient": "left", "values": [-0.1,-0.05,0,0.05,0.1,0.15], "labelPadding": 48,
                   "title": "Factor Loadings", "titleFontSize": 48, "titleAngle": 270, "titleX": -132, "titleY": 181, "titleBaseline": "middle", "titleAlign": "center",
                   "labelExpr": "round(datum.value*20) % 2 === 0 ? (datum.value < -0.001 ? '-' : '') + format(abs(datum.value), '.1f') : ''",
                   "tickSize": {"condition": {"test": "round(datum.value*20) % 2 === 0", "value": -19}, "value": -10}}}
   }},
  {"data": {"name": "box2"}, "mark": {"type": "rect", "fill": "white", "stroke": "black", "strokeWidth": 1.5},
   "encoding": {
    "x": {"field": "x1", "type": "quantitative",
          "axis": {"orient": "top", "values": [700,800,900,1000,1100,1200,1300,1400,1500,1600,1700], "labels": false, "title": null,
                   "tickSize": {"condition": {"test": "datum.value % 200 === 0", "value": -20}, "value": -10}}},
    "x2": {"field": "x2"},
    "y": {"field": "y1", "type": "quantitative",
          "axis": {"orient": "right", "values": [-0.1,-0.05,0,0.05,0.1,0.15], "labels": false, "title": null,
                   "tickSize": {"condition": {"test": "round(datum.value*20) % 2 === 0", "value": -19}, "value": -10}}},
    "y2": {"field": "y2"}
   }},
  {"data": {"name": "box2"}, "mark": {"type": "text", "fontSize": 50, "align": "center", "baseline": "middle"},
   "encoding": {"x": {"field": "tx", "type": "quantitative", "axis": null}, "y": {"field": "ty", "type": "quantitative", "axis": null}, "text": {"field": "name"}}},
  {"data": {"name": "lab2"}, "mark": {"type": "text", "angle": 270, "fontSize": 35, "align": "center", "baseline": "middle"},
   "encoding": {"x": {"field": "x", "type": "quantitative", "axis": null}, "y": {"field": "y", "type": "quantitative", "axis": null}, "text": {"field": "t"}}}
 ],
 "resolve": {"axis": {"x": "independent", "y": "independent"}}
},
{
 "width": 1626, "height": 408,
 "layer": [
  {"data": {"name": "f3"}, "mark": {"type": "line", "color": "black", "strokeWidth": 2.8},
   "encoding": {
    "x": {"field": "x", "type": "quantitative", "scale": {"domain": [615, 1750], "nice": false, "zero": false},
          "axis": {"orient": "bottom", "values": [700,800,900,1000,1100,1200,1300,1400,1500,1600,1700], "labels": true, "format": "d", "labelPadding": 39,
                   "labelExpr": "datum.value % 200 === 0 ? datum.label : ''",
                   "title": "Raman Shift (cm⁻¹)", "titleFontSize": 50, "titlePadding": 14,
                   "tickSize": {"condition": {"test": "datum.value % 200 === 0", "value": -20}, "value": -10}}},
    "y": {"field": "y", "type": "quantitative", "scale": {"domain": [-0.1, 0.16], "nice": false, "zero": false},
          "axis": {"orient": "left", "values": [-0.1,-0.05,0,0.05,0.1,0.15], "title": null, "labelPadding": 48,
                   "labelExpr": "round(datum.value*20) % 2 === 0 ? (datum.value < -0.001 ? '-' : '') + format(abs(datum.value), '.1f') : ''",
                   "tickSize": {"condition": {"test": "round(datum.value*20) % 2 === 0", "value": -19}, "value": -10}}}
   }},
  {"data": {"name": "box3"}, "mark": {"type": "rect", "fill": "white", "stroke": "black", "strokeWidth": 1.5},
   "encoding": {
    "x": {"field": "x1", "type": "quantitative",
          "axis": {"orient": "top", "values": [700,800,900,1000,1100,1200,1300,1400,1500,1600,1700], "labels": false, "title": null,
                   "tickSize": {"condition": {"test": "datum.value % 200 === 0", "value": -20}, "value": -10}}},
    "x2": {"field": "x2"},
    "y": {"field": "y1", "type": "quantitative",
          "axis": {"orient": "right", "values": [-0.05,0,0.05,0.1,0.15], "labels": false, "title": null,
                   "tickSize": {"condition": {"test": "round(datum.value*20) % 2 === 0", "value": -19}, "value": -10}}},
    "y2": {"field": "y2"}
   }},
  {"data": {"name": "box3"}, "mark": {"type": "text", "fontSize": 50, "align": "center", "baseline": "middle"},
   "encoding": {"x": {"field": "tx", "type": "quantitative", "axis": null}, "y": {"field": "ty", "type": "quantitative", "axis": null}, "text": {"field": "name"}}},
  {"data": {"name": "lab3"}, "mark": {"type": "text", "angle": 270, "fontSize": 35, "align": "center", "baseline": "middle"},
   "encoding": {"x": {"field": "x", "type": "quantitative", "axis": null}, "y": {"field": "y", "type": "quantitative", "axis": null}, "text": {"field": "t"}}}
 ],
 "resolve": {"axis": {"x": "independent", "y": "independent"}}
}
]
}
